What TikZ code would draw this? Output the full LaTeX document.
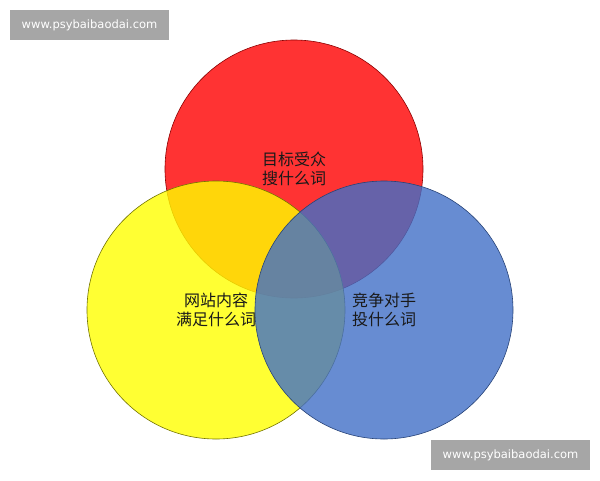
\documentclass[tikz,border=0pt]{standalone}
\usepackage{fontspec}
\usepackage{tikz}
\newfontfamily\cjk{Noto Sans CJK SC}
\newfontfamily\wmfont{DejaVu Sans}
\definecolor{vennred}{RGB}{255,0,0}
\definecolor{vennyellow}{RGB}{255,255,0}
\definecolor{vennblue}{RGB}{65,111,199}
\definecolor{wmgray}{RGB}{166,166,166}

\begin{document}
\begin{tikzpicture}[x=1pt, y=-1pt]
	\useasboundingbox (0,0) rectangle (600,480);
	\tikzstyle{every node} = [circle, minimum size = 258pt, inner sep=0pt, fill opacity=0.8, text opacity=1, line width=0.6pt, align=center, text=black!90, font=\cjk\fontsize{16}{18.5}\selectfont]
	\node [fill=vennred, draw=vennred!55!black] (audience) at (294, 169) {目标受众\\搜什么词};
	\node [fill=vennyellow, draw=vennyellow!45!black] (content) at (216, 310) {网站内容\\满足什么词};
	\node [fill=vennblue, draw=vennblue!60!black] (rival) at (384, 310) {竞争对手\\投什么词};
	\tikzstyle{every node} = [rectangle, fill=wmgray, text=white, minimum width = 159pt, minimum height = 30pt, inner sep=0pt, font=\wmfont\fontsize{11.5}{13}\selectfont]
	\node (wm1) at (89.5, 25) {www.psybaibaodai.com};
	\node (wm2) at (510.5, 455) {www.psybaibaodai.com};
\end{tikzpicture}
\end{document}
